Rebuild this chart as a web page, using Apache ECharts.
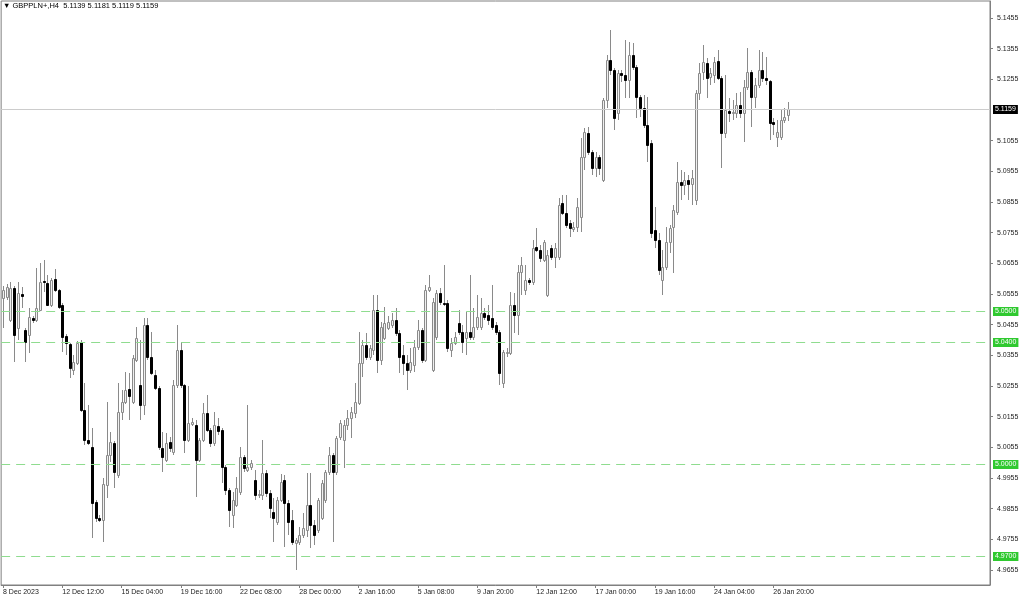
<!DOCTYPE html>
<html><head><meta charset="utf-8">
<script src="https://cdn.jsdelivr.net/npm/echarts@6/dist/echarts.min.js"></script>
<style>html,body{margin:0;padding:0;background:#fff}#c{width:1024px;height:599px}</style>
</head><body><div id="c"></div>
<script>
const titleText = '▼ GBPPLN+,H4  5.1139 5.1181 5.1119 5.1159';
const tickLabels = ['8 Dec 2023','12 Dec 12:00','15 Dec 04:00','19 Dec 16:00','22 Dec 08:00','28 Dec 00:00','2 Jan 16:00','5 Jan 08:00','9 Jan 20:00','12 Jan 12:00','17 Jan 00:00','19 Jan 16:00','24 Jan 04:00','26 Jan 20:00'];
const tickEvery = 16;
const slotCount = 267;
const yTickValues = [4.9655,4.9755,4.9855,4.9955,5.0055,5.0155,5.0255,5.0355,5.0455,5.0555,5.0655,5.0755,5.0855,5.0955,5.1055,5.1255,5.1355,5.1455];
const levelLines = [5.0500,5.0400,5.0000,4.9700];
const lastPrice = 5.1159;

const open = [5.0543,5.0546,5.0471,5.0575,5.0445,5.0556,5.0438,5.0422,5.0477,5.0471,5.0503,5.0598,5.0591,5.0520,5.0604,5.0569,5.0520,5.0419,5.0393,5.0308,
5.0331,5.0399,5.0177,5.0080,5.0057,4.9877,4.9825,4.9819,4.9933,5.0031,5.0070,4.9966,5.0171,5.0203,5.0246,5.0203,5.0340,5.0259,5.0194,5.0455,
5.0350,5.0292,5.0249,5.0054,5.0014,5.0073,5.0041,5.0259,5.0373,5.0259,5.0080,5.0132,5.0129,5.0014,5.0080,5.0168,5.0112,5.0070,5.0125,5.0112,
4.9992,4.9917,4.9835,4.9868,4.9910,5.0024,4.9982,4.9992,4.9950,4.9900,4.9900,4.9972,4.9907,4.9845,4.9812,4.9884,4.9950,4.9874,4.9819,4.9744,
4.9747,4.9770,4.9786,4.9868,4.9803,4.9786,4.9825,4.9884,4.9975,5.0031,4.9975,5.0089,5.0080,5.0129,5.0151,5.0168,5.0200,5.0331,5.0389,5.0350,
5.0373,5.0503,5.0340,5.0412,5.0445,5.0455,5.0471,5.0428,5.0357,5.0331,5.0308,5.0324,5.0383,5.0438,5.0340,5.0569,5.0308,5.0415,5.0559,5.0526,
5.0526,5.0373,5.0396,5.0461,5.0432,5.0412,5.0432,5.0415,5.0448,5.0448,5.0494,5.0487,5.0477,5.0455,5.0432,5.0265,5.0363,5.0363,5.0520,5.0487,
5.0627,5.0569,5.0601,5.0595,5.0709,5.0699,5.0666,5.0552,5.0706,5.0676,5.0676,5.0852,5.0820,5.0787,5.0768,5.0774,5.0807,5.1002,5.1080,5.1019,
5.0966,5.1002,5.0927,5.1188,5.1318,5.1286,5.1146,5.1276,5.1270,5.1253,5.1335,5.1296,5.1198,5.1162,5.1107,5.1048,5.0764,5.0732,5.0601,5.0644,
5.0725,5.0774,5.0823,5.0921,5.0911,5.0927,5.0914,5.0862,5.1211,5.1279,5.1309,5.1263,5.1270,5.1315,5.1260,5.1080,5.1152,5.1146,5.1146,5.1172,
5.1146,5.1230,5.1279,5.1198,5.1237,5.1286,5.1260,5.1250,5.1116,5.1067,5.1067,5.1123,5.1139];

const close = [5.0569,5.0578,5.0575,5.0422,5.0559,5.0549,5.0399,5.0481,5.0471,5.0510,5.0595,5.0595,5.0520,5.0601,5.0569,5.0513,5.0415,5.0396,5.0314,5.0334,
5.0396,5.0177,5.0080,5.0070,4.9874,4.9825,4.9819,4.9936,5.0031,5.0073,4.9975,5.0171,5.0203,5.0243,5.0223,5.0347,5.0412,5.0194,5.0455,5.0350,
5.0298,5.0249,5.0057,5.0024,5.0070,5.0054,5.0259,5.0373,5.0259,5.0080,5.0135,5.0138,5.0014,5.0080,5.0168,5.0112,5.0070,5.0129,5.0109,4.9992,
4.9917,4.9851,4.9884,4.9923,5.0024,4.9988,4.9992,5.0004,4.9900,4.9904,4.9972,4.9907,4.9858,4.9825,4.9884,4.9943,4.9874,4.9812,4.9747,4.9754,
4.9770,4.9793,4.9868,4.9803,4.9770,4.9884,4.9940,4.9975,5.0031,4.9975,5.0086,5.0135,5.0129,5.0151,5.0171,5.0203,5.0331,5.0389,5.0350,5.0379,
5.0503,5.0340,5.0448,5.0461,5.0464,5.0471,5.0428,5.0350,5.0331,5.0308,5.0334,5.0383,5.0438,5.0340,5.0569,5.0578,5.0529,5.0559,5.0529,5.0523,
5.0379,5.0396,5.0415,5.0432,5.0399,5.0432,5.0415,5.0448,5.0481,5.0494,5.0481,5.0471,5.0448,5.0432,5.0298,5.0366,5.0366,5.0520,5.0487,5.0627,
5.0650,5.0601,5.0595,5.0706,5.0699,5.0673,5.0725,5.0683,5.0676,5.0706,5.0846,5.0820,5.0781,5.0771,5.0774,5.0839,5.1002,5.1084,5.1019,5.0966,
5.1002,5.0966,5.1188,5.1318,5.1286,5.1129,5.1276,5.1270,5.1253,5.1335,5.1296,5.1198,5.1162,5.1107,5.1041,5.0754,5.0732,5.0634,5.0644,5.0725,
5.0771,5.0829,5.0921,5.0911,5.0927,5.0914,5.0934,5.1211,5.1276,5.1312,5.1260,5.1276,5.1312,5.1260,5.1080,5.1155,5.1146,5.1149,5.1172,5.1146,
5.1230,5.1279,5.1198,5.1237,5.1286,5.1260,5.1253,5.1113,5.1110,5.1084,5.1123,5.1133,5.1159];

const low = [5.0445,5.0536,5.0464,5.0334,5.0406,5.0510,5.0334,5.0363,5.0461,5.0464,5.0500,5.0562,5.0516,5.0513,5.0562,5.0507,5.0366,5.0357,5.0282,5.0292,
5.0324,5.0171,5.0063,5.0063,4.9760,4.9812,4.9812,4.9747,4.9891,5.0008,4.9923,4.9956,5.0145,5.0197,5.0145,5.0197,5.0334,5.0145,5.0161,5.0340,
5.0292,5.0243,5.0047,4.9975,5.0008,5.0041,5.0031,5.0249,5.0249,5.0037,5.0073,5.0125,4.9894,5.0008,5.0073,5.0106,5.0057,5.0060,5.0096,4.9940,
4.9900,4.9796,4.9793,4.9861,4.9900,4.9975,4.9975,4.9982,4.9884,4.9891,4.9884,4.9894,4.9825,4.9747,4.9803,4.9877,4.9731,4.9770,4.9737,4.9656,
4.9737,4.9760,4.9763,4.9728,4.9737,4.9776,4.9819,4.9874,4.9966,4.9747,4.9966,5.0080,4.9988,5.0112,5.0086,5.0151,5.0194,5.0285,5.0340,5.0340,
5.0357,5.0298,5.0324,5.0406,5.0438,5.0445,5.0419,5.0298,5.0292,5.0243,5.0298,5.0301,5.0373,5.0331,5.0334,5.0562,5.0301,5.0406,5.0520,5.0516,
5.0366,5.0350,5.0389,5.0422,5.0363,5.0357,5.0406,5.0406,5.0438,5.0438,5.0471,5.0455,5.0438,5.0422,5.0259,5.0249,5.0350,5.0357,5.0428,5.0422,
5.0552,5.0552,5.0585,5.0585,5.0693,5.0660,5.0660,5.0546,5.0666,5.0640,5.0666,5.0813,5.0771,5.0741,5.0758,5.0758,5.0758,5.0960,5.1009,5.0944,
5.0937,5.0944,5.0921,5.1162,5.1270,5.1090,5.1123,5.1247,5.1195,5.1195,5.1286,5.1129,5.1133,5.1097,5.0986,5.0738,5.0706,5.0618,5.0552,5.0634,
5.0689,5.0624,5.0813,5.0862,5.0878,5.0862,5.0846,5.0846,5.1188,5.1253,5.1195,5.1237,5.1243,5.1253,5.0966,5.1064,5.1116,5.1123,5.1129,5.1129,
5.1051,5.1221,5.1100,5.1162,5.1227,5.1247,5.1237,5.1058,5.1074,5.1035,5.1058,5.1113,5.1119];

const high = [5.0582,5.0588,5.0595,5.0582,5.0595,5.0578,5.0445,5.0510,5.0484,5.0640,5.0657,5.0666,5.0618,5.0608,5.0637,5.0572,5.0526,5.0425,5.0396,5.0357,
5.0402,5.0406,5.0265,5.0194,5.0119,4.9884,4.9835,4.9956,5.0203,5.0106,5.0076,5.0265,5.0243,5.0301,5.0298,5.0357,5.0448,5.0406,5.0477,5.0477,
5.0432,5.0308,5.0256,5.0106,5.0102,5.0089,5.0275,5.0455,5.0399,5.0262,5.0256,5.0151,5.0145,5.0086,5.0200,5.0226,5.0119,5.0171,5.0151,5.0119,
4.9998,4.9923,4.9910,4.9959,5.0057,5.0031,5.0194,5.0014,4.9982,4.9917,5.0080,4.9982,4.9917,4.9891,4.9894,4.9969,4.9966,4.9884,4.9851,4.9760,
4.9796,4.9842,4.9972,4.9972,4.9819,4.9891,4.9950,4.9982,5.0057,5.0037,5.0093,5.0145,5.0145,5.0177,5.0187,5.0265,5.0432,5.0406,5.0428,5.0389,
5.0552,5.0552,5.0464,5.0513,5.0484,5.0494,5.0510,5.0438,5.0389,5.0357,5.0379,5.0406,5.0471,5.0445,5.0585,5.0618,5.0543,5.0569,5.0575,5.0650,
5.0536,5.0412,5.0432,5.0503,5.0455,5.0497,5.0618,5.0510,5.0552,5.0543,5.0510,5.0520,5.0585,5.0464,5.0438,5.0373,5.0379,5.0562,5.0559,5.0650,
5.0676,5.0650,5.0608,5.0732,5.0771,5.0715,5.0732,5.0699,5.0715,5.0722,5.0869,5.0878,5.0878,5.0797,5.0790,5.0869,5.1064,5.1097,5.1100,5.1025,
5.1019,5.1009,5.1195,5.1335,5.1416,5.1292,5.1286,5.1286,5.1384,5.1377,5.1374,5.1302,5.1204,5.1204,5.1198,5.1058,5.0839,5.0754,5.0699,5.0774,
5.0781,5.0846,5.0986,5.0960,5.0953,5.0944,5.0960,5.1221,5.1309,5.1367,5.1325,5.1292,5.1328,5.1351,5.1266,5.1270,5.1195,5.1188,5.1211,5.1214,
5.1253,5.1358,5.1286,5.1260,5.1351,5.1344,5.1328,5.1253,5.1129,5.1123,5.1155,5.1162,5.1181];

const categories = [];
for (let i = 0; i < slotCount; i++) categories.push(String(i));
const candleData = open.map((o, i) => [i, o, close[i], low[i], high[i]]);
const lineData = levelLines.map(v => [0, v, 'level']).concat([[0, lastPrice, 'last']]);

const fontFam = "Liberation Sans";
const fs = 7;
const isTick = (idx) => idx % tickEvery === 0 && idx / tickEvery < tickLabels.length;

const chart = echarts.init(document.getElementById('c'), null, {renderer: 'canvas'});
chart.setOption({
  animation: false,
  backgroundColor: '#ffffff',
  title: {
    text: titleText, left: 3, top: 2, padding: 0,
    textStyle: {fontSize: 7.5, fontWeight: 'normal', color: '#000', fontFamily: fontFam}
  },
  grid: {left: 1, right: 34, top: 1, bottom: 14, show: true, borderColor: '#808080', borderWidth: 1, backgroundColor: '#fff'},
  xAxis: {
    type: 'category', data: categories, boundaryGap: true,
    axisLine: {show: true, lineStyle: {color: '#808080'}},
    axisTick: {show: true, length: 3, alignWithLabel: true, interval: (idx) => isTick(idx), lineStyle: {color: '#808080'}},
    axisLabel: {
      show: true, interval: (idx) => isTick(idx), align: 'left', margin: 4,
      formatter: (v, idx) => isTick(idx) ? tickLabels[idx / tickEvery] : '',
      fontSize: fs, color: '#222', fontFamily: fontFam
    },
    splitLine: {show: false}
  },
  yAxis: {
    type: 'value', position: 'right', min: 4.96061, max: 5.15104, scale: true,
    axisLine: {show: true, lineStyle: {color: '#808080'}},
    axisTick: {show: true, length: 3, inside: false, customValues: yTickValues, lineStyle: {color: '#808080'}},
    axisLabel: {show: true, customValues: yTickValues, margin: 7, formatter: (v) => Number(v).toFixed(4), fontSize: fs, color: '#222', fontFamily: fontFam},
    splitLine: {show: false}
  },
  series: [{
    type: 'custom',
    data: candleData,
    encode: {x: 0, y: [1, 2, 3, 4]},
    clip: true,
    z: 2,
    renderItem: function (params, api) {
      const i = api.value(0);
      const o = api.value(1), c = api.value(2), l = api.value(3), h = api.value(4);
      const pO = api.coord([i, o]), pC = api.coord([i, c]);
      const pL = api.coord([i, l]), pH = api.coord([i, h]);
      const x = Math.round(pO[0]);
      const top = Math.round(Math.min(pO[1], pC[1]));
      const bot = Math.round(Math.max(pO[1], pC[1]));
      const bull = c >= o;
      return {
        type: 'group',
        children: [
          {type: 'line', shape: {x1: x + 0.5, y1: Math.round(pH[1]), x2: x + 0.5, y2: Math.round(pL[1])},
            style: {stroke: '#8a8a8a', lineWidth: 1}},
          {type: 'rect', shape: {x: x - 0.5, y: top + 0.5, width: 2, height: Math.max(bot - top, 1)},
            style: bull ? {fill: '#f0f0f0', stroke: '#8a8a8a', lineWidth: 1} : {fill: '#000000', stroke: '#000000', lineWidth: 1}}
        ]
      };
    }
  }, {
    type: 'custom',
    data: lineData,
    encode: {x: 0, y: 1},
    clip: false,
    z: 3,
    silent: true,
    renderItem: function (params, api) {
      const v = api.value(1);
      const isLast = lineData[params.dataIndex][2] === 'last';
      const cs = params.coordSys;
      const y = Math.round(api.coord([0, v])[1]) + 0.5;
      const xr = cs.x + cs.width;
      return {
        type: 'group',
        children: [
          {type: 'line', shape: {x1: cs.x, y1: y, x2: xr, y2: y},
            style: isLast ? {stroke: '#cccccc', lineWidth: 1} : {stroke: '#8fdc8f', lineWidth: 1, lineDash: [9, 6]}},
          {type: 'text', x: xr + 3, y: y,
            style: {text: v.toFixed(4), fill: '#ffffff', backgroundColor: isLast ? '#000000' : '#2fc92f',
              padding: [1, 2, 1, 2], font: fs + 'px ' + fontFam, align: 'left', verticalAlign: 'middle'}}
        ]
      };
    }
  }]
});
</script>
</body></html>
